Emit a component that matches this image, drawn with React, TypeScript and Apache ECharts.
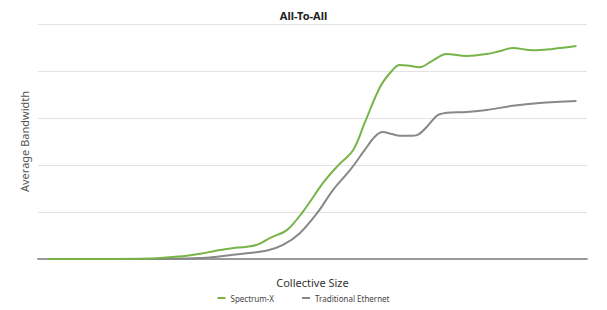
import React, { useEffect, useRef } from "react";
import * as echarts from "echarts";

const xSpectrum = [0, 9.8, 19.3, 25.5, 28.7, 31.9, 34.8, 37.6, 39.7, 42, 45.2, 48.2, 52, 54.6, 57.7, 59.9, 62.8, 65, 66.5, 68.4, 70.3, 72.6, 75.4, 79.2, 83, 85.4, 87.9, 91.7, 95.5, 100];
const ySpectrum = [0, 0, 0.01, 0.06, 0.11, 0.18, 0.23, 0.26, 0.31, 0.45, 0.62, 1.01, 1.62, 1.96, 2.32, 2.9, 3.66, 4.0, 4.13, 4.11, 4.08, 4.21, 4.36, 4.32, 4.36, 4.42, 4.49, 4.44, 4.47, 4.53];

const xEthernet = [0, 19.3, 28.7, 31.9, 37.6, 41.4, 44.4, 47.6, 50.9, 53.9, 57.1, 59.9, 61.8, 63.3, 65, 66.5, 68.4, 69.9, 71.8, 73.7, 75.4, 79.2, 83, 87.9, 93, 100];
const yEthernet = [0, 0, 0.02, 0.05, 0.12, 0.18, 0.3, 0.55, 0.98, 1.47, 1.89, 2.32, 2.6, 2.7, 2.66, 2.62, 2.62, 2.64, 2.83, 3.06, 3.11, 3.13, 3.17, 3.26, 3.32, 3.36];

const seriesNames = ["Spectrum-X", "Traditional Ethernet"];
const title = "All-To-All";
const xName = "Collective Size";
const yName = "Average Bandwidth";

export default function App() {
  const ref = useRef<HTMLDivElement>(null);
  useEffect(() => {
    document.body.style.margin = "0";
    const chart = echarts.init(ref.current!, null, { renderer: "svg" });
    const font = "'Noto Sans', Lato, sans-serif";
    chart.setOption({
      animation: false,
      textStyle: { fontFamily: font },
      title: {
        text: title,
        left: "center",
        top: 5,
        textStyle: { fontSize: 11, fontWeight: "bold", color: "#222", fontFamily: font },
      },
      grid: { left: 38, right: 20, top: 24, bottom: 51 },
      legend: {
        bottom: 3,
        left: "center",
        icon: "rect",
        itemWidth: 8,
        itemHeight: 2,
        itemGap: 28,
        textStyle: { fontSize: 8, color: "#444", fontFamily: font },
        data: seriesNames,
      },
      xAxis: {
        type: "value",
        min: -2,
        max: 102,
        name: xName,
        nameLocation: "middle",
        nameGap: 18,
        nameTextStyle: { fontSize: 11, color: "#333", fontFamily: font },
        axisLabel: { show: false },
        axisTick: { show: false },
        splitLine: { show: false },
        axisLine: { lineStyle: { color: "#999", width: 2 } },
      },
      yAxis: {
        type: "value",
        min: 0,
        max: 5,
        interval: 1,
        name: yName,
        nameLocation: "middle",
        nameGap: 8,
        nameTextStyle: { fontSize: 11, color: "#555", fontFamily: font },
        axisLabel: { show: false },
        axisTick: { show: false },
        axisLine: { show: false },
        splitLine: { lineStyle: { color: "#e2e2e2", width: 1 } },
      },
      series: [
        {
          name: seriesNames[0],
          type: "line",
          smooth: 0.35,
          showSymbol: false,
          lineStyle: { color: "#77b447", width: 2 },
          itemStyle: { color: "#77b447" },
          data: xSpectrum.map((x, i) => [x, ySpectrum[i]]),
          z: 3,
        },
        {
          name: seriesNames[1],
          type: "line",
          smooth: 0.35,
          showSymbol: false,
          lineStyle: { color: "#888888", width: 2 },
          itemStyle: { color: "#888888" },
          data: xEthernet.map((x, i) => [x, yEthernet[i]]),
          z: 2,
        },
      ],
    });
    return () => chart.dispose();
  }, []);
  return <div ref={ref} style={{ width: 607, height: 310 }} />;
}
